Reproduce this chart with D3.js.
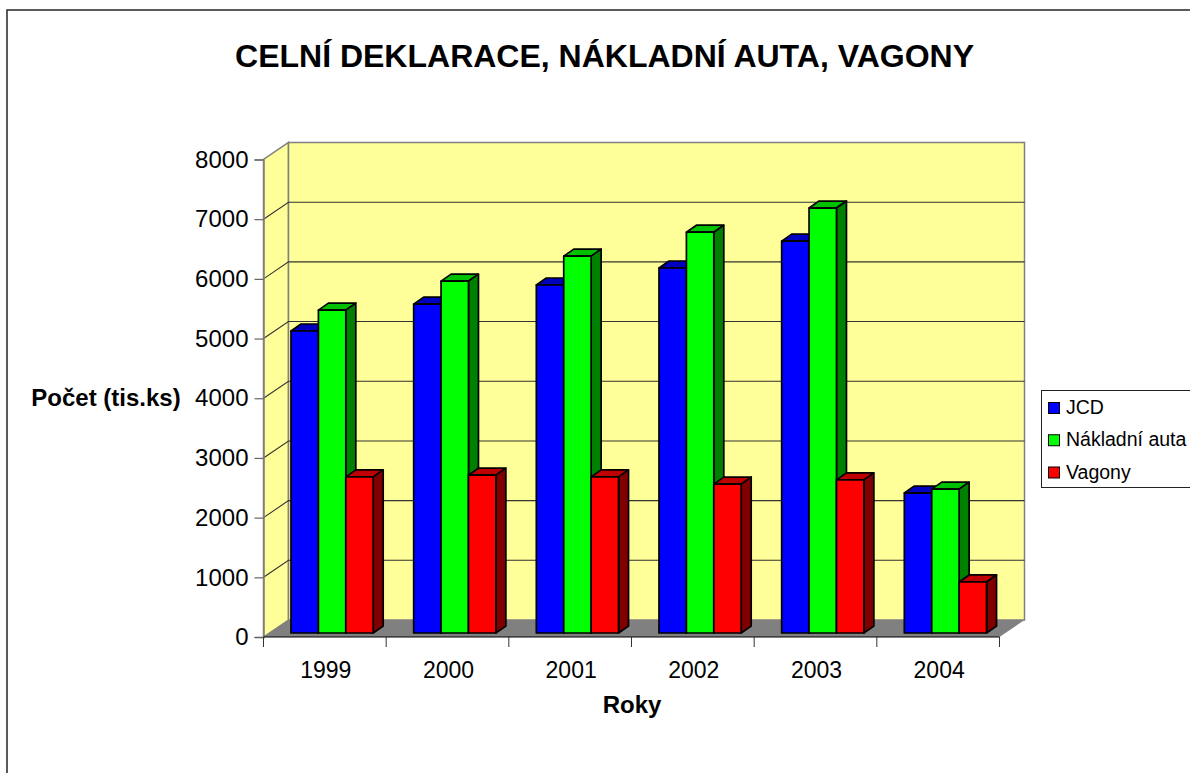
<!DOCTYPE html>
<html><head><meta charset="utf-8">
<script src="https://cdn.jsdelivr.net/npm/d3@7/dist/d3.min.js"></script>
<style>html,body{margin:0;padding:0;background:#fff;overflow:hidden}svg{display:block}text{font-family:"Liberation Sans",Arial,sans-serif;fill:#000}</style>
</head><body><div id="c"></div>
<script>
const years = ["1999","2000","2001","2002","2003","2004"];
const seriesNames = ["JCD","Nákladní auta","Vagony"];
const jcd = [5060,5510,5830,6115,6565,2345];
const auta = [5410,5895,6315,6715,7120,2410];
const vagony = [2615,2645,2615,2495,2565,855];
const yTicks = [0,1000,2000,3000,4000,5000,6000,7000,8000];
const seriesValues = [jcd,auta,vagony];
const frontCol = ["#0000ff","#00ff00","#ff0000"];
const topCol = ["#0000c0","#00c000","#c00000"];
const sideCol = ["#000080","#008000","#800000"];

const svg = d3.select("#c").append("svg").attr("width",1190).attr("height",773);
svg.append("rect").attr("x",7).attr("y",10).attr("width",1190).attr("height",800).attr("fill","#fff").attr("stroke","#333").attr("stroke-width",1.6);

const x = d3.scaleBand().domain(years).range([263.5,999.5]);
const y = d3.scaleLinear().domain([0,8000]).range([637,159.5]);
const inner = d3.scaleBand().domain(seriesNames).range([27.5,109.7]);
const depth = {dx:25, dy:-17};
const barOff = {y:-4};
const barDepth = {dx:10, dy:-7};
const poly = pts => pts.map(p=>p.join(",")).join(" ");
const [x0,x1] = x.range();

// walls
svg.append("polygon").attr("points",poly([[x0,y(0)],[x0,y(8000)],[x0+depth.dx,y(8000)+depth.dy],[x0+depth.dx,y(0)+depth.dy]]))
  .attr("fill","#ffff99").attr("stroke","#808080").attr("stroke-width",1.5);
svg.append("rect").attr("x",x0+depth.dx).attr("y",y(8000)+depth.dy).attr("width",x1-x0).attr("height",y(0)-y(8000))
  .attr("fill","#ffff99").attr("stroke","#808080").attr("stroke-width",1.5);
svg.append("polygon").attr("points",poly([[x0,y(0)],[x1,y(0)],[x1+depth.dx,y(0)+depth.dy],[x0+depth.dx,y(0)+depth.dy]]))
  .attr("fill","#808080");

// gridlines
const grid = svg.append("g").attr("stroke","#333").attr("stroke-width",1.1).attr("fill","none");
yTicks.filter(t=>t>0&&t<8000).forEach(t=>{
  grid.append("path").attr("d",`M${x0},${y(t)}L${x0+depth.dx},${y(t)+depth.dy}L${x1+depth.dx},${y(t)+depth.dy}`);
});

// bars
const barsG = svg.append("g").attr("stroke","#000").attr("stroke-width",1.7).attr("stroke-linejoin","round");
years.forEach((yr,i)=>{
  seriesNames.forEach((s,j)=>{
    const v = seriesValues[j][i];
    const l = x(yr)+inner(s), r = l+inner.bandwidth();
    const t = y(v)+barOff.y, b = y(0)+barOff.y;
    const g = barsG.append("g");
    g.append("polygon").attr("points",poly([[l,t],[r,t],[r+barDepth.dx,t+barDepth.dy],[l+barDepth.dx,t+barDepth.dy]])).attr("fill",topCol[j]);
    g.append("polygon").attr("points",poly([[r,t],[r+barDepth.dx,t+barDepth.dy],[r+barDepth.dx,b+barDepth.dy],[r,b]])).attr("fill",sideCol[j]);
    g.append("rect").attr("x",l).attr("y",t).attr("width",r-l).attr("height",b-t).attr("fill",frontCol[j]);
  });
});

// axes
const yAxis = d3.axisLeft(y).tickValues(yTicks).tickSize(9).tickPadding(6).tickFormat(d3.format("d"));
const ya = svg.append("g").attr("transform",`translate(${x0},0)`).call(yAxis);
ya.select(".domain").attr("stroke","#808080").attr("stroke-width",1.5);
ya.selectAll(".tick line").attr("stroke","#666").attr("stroke-width",1.2);
ya.selectAll("text").attr("font-size",24).style("font-family",'"Liberation Sans"');

const xa = svg.append("g").attr("transform",`translate(0,${y(0)})`);
xa.append("line").attr("x1",x0).attr("x2",x1).attr("stroke","#000").attr("stroke-width",1.2);
[...years.map(d=>x(d)),x1].forEach(p=>xa.append("line").attr("x1",p).attr("x2",p).attr("y1",0).attr("y2",10).attr("stroke","#333"));
years.forEach(d=>xa.append("text").attr("x",x(d)+x.bandwidth()/2+1).attr("y",41).attr("text-anchor","middle").attr("font-size",23).text(d));

svg.append("text").attr("x",604.5).attr("y",67).attr("text-anchor","middle").attr("font-size",32).attr("font-weight","bold").text("CELNÍ DEKLARACE, NÁKLADNÍ AUTA, VAGONY");
svg.append("text").attr("x",632).attr("y",713).attr("text-anchor","middle").attr("font-size",24).attr("font-weight","bold").text("Roky");
svg.append("text").attr("x",106).attr("y",406).attr("text-anchor","middle").attr("font-size",24).attr("font-weight","bold").text("Počet (tis.ks)");

// legend
const lg = svg.append("g");
lg.append("rect").attr("x",1041.5).attr("y",390.5).attr("width",170).attr("height",97).attr("fill","#fff").attr("stroke","#222");
const ly = d3.scalePoint().domain(seriesNames).range([408,472.5]);
seriesNames.forEach((s,j)=>{
  lg.append("rect").attr("x",1048.5).attr("y",ly(s)-5.5).attr("width",11).attr("height",11).attr("fill",frontCol[j]).attr("stroke","#000");
  lg.append("text").attr("x",1066).attr("y",ly(s)+6).attr("font-size",19.5).text(s);
});
</script></body></html>
